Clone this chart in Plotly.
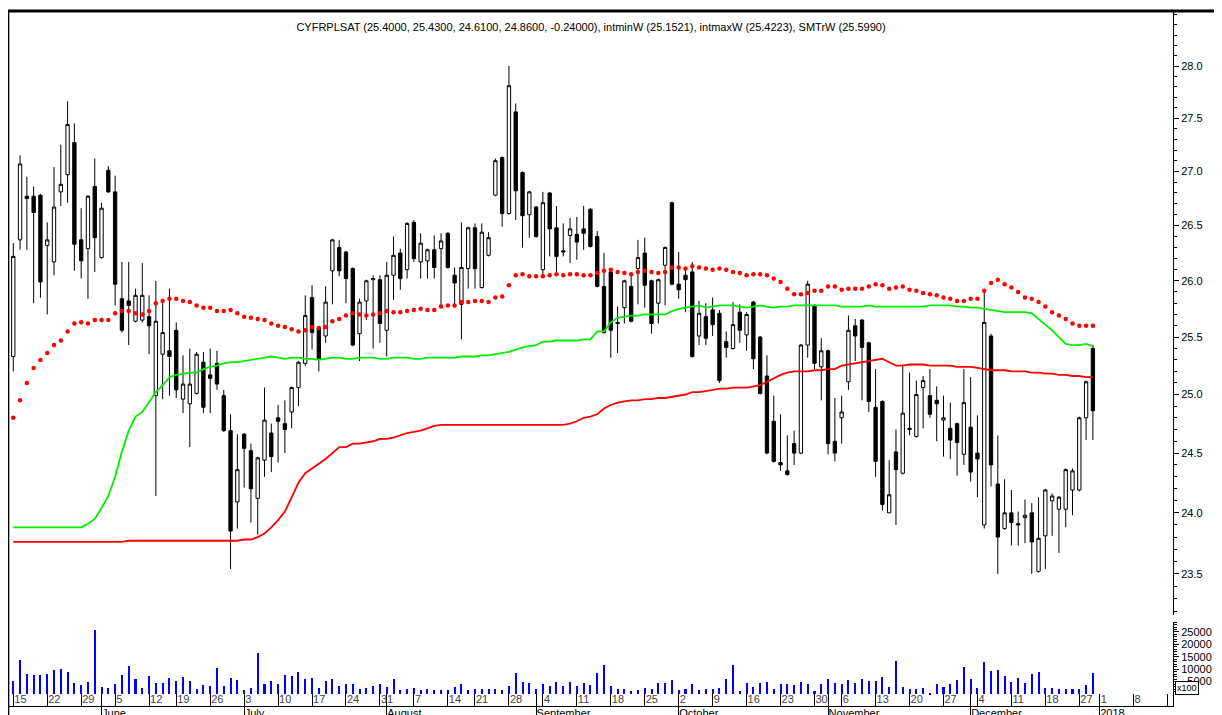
import pandas as pd
import plotly.graph_objects as go

# daily bars 15 May 2017 - 29 Dec 2017 (trading days)
open_ = [25.33, 26.37, 26.77, 26.77, 26.78, 26.32, 26.17, 26.81, 26.97, 27.27,
         26.37, 26.29, 26.86, 26.21, 27.01, 26.81, 25.84, 25.82, 25.64, 25.65,
         25.68, 24.99, 25.35, 25.38, 25.56, 24.96, 24.92, 25.01, 25.28, 25.17,
         25.27, 24.99, 24.69, 24.09, 24.66, 24.52, 24.12, 24.44, 24.67, 24.80,
         24.75, 24.85, 25.06, 25.27, 25.85, 25.58, 25.51, 26.09, 26.30, 26.26,
         26.11, 25.53, 25.82, 26.01, 26.01, 25.56, 26.05, 26.25, 26.10, 26.53,
         26.17, 26.18, 26.28, 26.29, 26.43, 26.05, 25.79, 26.11, 26.48, 25.94,
         26.23, 26.78, 27.13, 26.61, 27.56, 26.99, 26.60, 26.67, 26.10, 26.80,
         26.48, 26.27, 26.41, 26.42, 26.47, 26.65, 26.40, 25.95, 26.08, 25.63,
         25.76, 25.95, 26.11, 26.25, 26.00, 25.80, 26.14, 26.71, 25.97, 26.05,
         26.08, 25.51, 25.68, 25.74, 25.71, 25.46, 25.40, 25.72, 25.52, 25.81,
         25.50, 25.16, 24.77, 24.42, 24.35, 24.58, 24.50, 25.43, 25.78, 25.24,
         25.38, 24.60, 24.80, 25.11, 25.60, 25.65, 25.45, 24.89, 24.94, 24.00,
         24.51, 24.33, 24.71, 24.64, 25.06, 24.99, 24.95, 24.78, 24.71, 24.75,
         24.49, 24.72, 24.50, 23.90, 25.51, 24.24, 23.87, 24.00, 23.91, 23.96,
         24.00, 23.52, 23.81, 24.10, 24.03, 24.03, 24.19, 24.19, 24.80, 25.40]

high_ = [26.34, 27.15, 26.95, 26.86, 26.79, 26.53, 27.04, 27.25, 27.66, 27.45,
         26.66, 26.78, 27.12, 26.71, 27.05, 26.96, 26.17, 26.17, 25.93, 26.16,
         25.87, 26.00, 25.84, 25.93, 25.63, 25.34, 25.40, 25.37, 25.37, 25.40,
         25.38, 25.04, 24.83, 24.66, 24.67, 24.58, 24.47, 25.06, 24.75, 24.91,
         24.95, 25.07, 25.29, 25.87, 25.96, 25.59, 25.95, 26.38, 26.37, 26.27,
         26.12, 25.84, 26.01, 26.05, 26.05, 26.17, 26.40, 26.29, 26.53, 26.55,
         26.43, 26.29, 26.41, 26.43, 26.44, 26.12, 26.53, 26.49, 26.52, 26.52,
         26.44, 27.12, 27.14, 28.00, 27.64, 27.00, 26.82, 26.68, 26.81, 26.81,
         26.68, 26.52, 26.57, 26.58, 26.68, 26.66, 26.45, 26.25, 26.09, 25.77,
         26.01, 26.05, 26.37, 26.39, 26.01, 26.02, 26.31, 26.72, 26.26, 26.10,
         26.17, 25.82, 25.80, 25.85, 25.74, 25.55, 25.81, 25.79, 25.72, 25.82,
         25.51, 25.34, 24.99, 24.83, 24.65, 24.69, 25.44, 26.00, 25.79, 25.49,
         25.39, 24.97, 24.99, 25.69, 25.66, 25.66, 25.46, 25.22, 24.95, 24.44,
         24.70, 25.26, 25.19, 25.12, 25.16, 25.22, 25.07, 24.99, 24.93, 24.76,
         25.22, 25.15, 24.82, 25.90, 25.53, 24.65, 24.28, 24.19, 24.01, 24.11,
         24.08, 24.13, 24.20, 24.16, 24.14, 24.37, 24.37, 24.81, 25.12, 25.43]

low_ = [25.20, 26.28, 26.28, 25.80, 25.85, 25.70, 26.05, 26.68, 26.71, 26.09,
        26.02, 25.84, 26.08, 26.20, 26.80, 25.78, 25.54, 25.43, 25.63, 25.63,
        25.35, 24.14, 24.96, 24.99, 24.97, 24.84, 24.55, 25.00, 24.84, 24.84,
        25.04, 24.68, 23.54, 23.87, 24.21, 23.92, 23.82, 24.30, 24.34, 24.42,
        24.50, 24.71, 24.90, 25.25, 25.39, 25.20, 25.45, 25.79, 26.04, 25.80,
        25.42, 25.29, 25.65, 25.40, 25.45, 25.33, 25.83, 25.92, 26.02, 26.17,
        26.02, 26.02, 26.02, 25.76, 26.11, 25.78, 25.48, 25.93, 25.93, 25.93,
        26.22, 26.77, 26.49, 26.60, 26.55, 26.30, 26.39, 26.39, 26.05, 26.22,
        26.08, 26.22, 26.16, 26.19, 26.28, 26.30, 25.94, 25.53, 25.32, 25.36,
        25.62, 25.63, 25.79, 25.76, 25.53, 25.62, 25.78, 25.96, 25.84, 25.72,
        25.32, 25.43, 25.43, 25.51, 25.10, 25.32, 25.39, 25.45, 25.38, 25.22,
        25.00, 24.49, 24.42, 24.35, 24.31, 24.40, 24.49, 25.32, 25.22, 24.95,
        24.49, 24.43, 24.58, 25.04, 25.29, 24.95, 24.85, 24.30, 24.02, 24.00,
        23.90, 24.32, 24.65, 24.63, 24.71, 24.80, 24.60, 24.47, 24.45, 24.31,
        24.40, 24.26, 24.13, 23.87, 24.22, 23.50, 23.86, 23.73, 23.73, 23.75,
        23.50, 23.51, 23.54, 23.81, 23.67, 23.88, 23.98, 24.18, 24.61, 24.61]

close_ = [26.22, 27.07, 26.75, 26.62, 25.99, 26.37, 26.67, 26.88, 27.44, 26.33,
          26.18, 26.77, 26.39, 26.66, 26.81, 25.97, 25.56, 25.78, 25.87, 25.87,
          25.60, 25.64, 25.54, 25.33, 25.04, 25.09, 25.09, 25.35, 24.89, 25.14,
          25.09, 24.69, 23.85, 24.36, 24.54, 24.20, 24.46, 24.78, 24.47, 24.77,
          24.70, 25.06, 25.28, 25.69, 25.54, 25.31, 25.81, 26.37, 26.09, 26.02,
          25.43, 25.81, 26.00, 26.02, 25.62, 26.05, 26.23, 26.02, 26.52, 26.20,
          26.34, 26.28, 26.12, 26.36, 26.12, 25.98, 26.12, 26.48, 26.11, 26.44,
          26.39, 27.10, 26.61, 27.81, 26.82, 26.59, 26.81, 26.40, 26.71, 26.47,
          26.22, 26.26, 26.47, 26.35, 26.43, 26.31, 25.95, 25.54, 25.56, 25.62,
          26.00, 25.64, 26.21, 25.96, 25.62, 26.01, 26.30, 25.97, 25.92, 26.01,
          25.33, 25.71, 25.49, 25.61, 25.12, 25.41, 25.61, 25.56, 25.70, 25.31,
          25.01, 24.50, 24.43, 24.40, 24.32, 24.50, 25.43, 25.97, 25.27, 25.38,
          24.58, 24.50, 24.85, 25.56, 25.51, 25.41, 24.94, 24.43, 24.07, 24.15,
          24.36, 24.84, 24.70, 25.00, 25.12, 24.83, 24.92, 24.80, 24.61, 24.59,
          24.93, 24.34, 24.45, 25.63, 24.40, 23.80, 24.00, 23.92, 23.90, 23.98,
          23.76, 23.79, 24.19, 24.14, 24.13, 24.36, 24.35, 24.80, 25.11, 24.86]

# volume in units of 100
volume = [5200, 13700, 7900, 7600, 7600, 8200, 9600, 10100, 8800, 4600,
          3600, 4800, 25700, 2800, 2400, 3900, 7600, 11300, 6000, 2400,
          7200, 4300, 4600, 6400, 5200, 6800, 5200, 1900, 3600, 3400,
          10500, 3200, 6400, 5600, 1600, 2300, 16500, 3900, 5200, 3900,
          7800, 7200, 8800, 5900, 6400, 2500, 5200, 5900, 3200, 4200,
          4200, 1900, 2500, 3200, 4200, 2800, 6000, 1700, 2000, 2400,
          1600, 1900, 1600, 1600, 1600, 2900, 3900, 1700, 2000, 2000,
          1900, 1900, 1500, 3200, 8600, 5000, 4600, 2000, 3900, 3200,
          5000, 3200, 5000, 3200, 4600, 3600, 8300, 11700, 3200, 2100,
          2000, 1300, 1600, 2400, 2100, 4300, 4600, 5600, 1600, 2100,
          3900, 1600, 2000, 2100, 2500, 6000, 11700, 1300, 4400, 2800,
          4600, 4800, 1900, 4200, 3900, 3600, 4800, 4200, 1300, 3900,
          5900, 4300, 3900, 5600, 4600, 5900, 5400, 5200, 6700, 2800,
          13300, 2800, 2100, 1900, 2500, 500, 3900, 2800, 3900, 5500,
          10900, 6000, 2500, 12900, 9200, 9600, 7200, 4800, 6600, 4600,
          7900, 8800, 2500, 2500, 2000, 2100, 2100, 2100, 3600, 8300]

smtr = [24.80, 24.95, 25.10, 25.23, 25.30, 25.36, 25.43, 25.47, 25.55, 25.62,
        25.63, 25.62, 25.65, 25.65, 25.65, 25.71, 25.73, 25.73, 25.71, 25.70,
        25.73, 25.80, 25.82, 25.84, 25.84, 25.82, 25.81, 25.78, 25.76, 25.76,
        25.73, 25.73, 25.74, 25.71, 25.68, 25.67, 25.66, 25.65, 25.62, 25.60,
        25.59, 25.57, 25.55, 25.56, 25.59, 25.58, 25.59, 25.64, 25.66, 25.69,
        25.71, 25.70, 25.69, 25.70, 25.71, 25.73, 25.72, 25.72, 25.73, 25.74,
        25.75, 25.74, 25.74, 25.77, 25.78, 25.78, 25.81, 25.81, 25.82, 25.82,
        25.81, 25.85, 25.86, 25.96, 26.05, 26.06, 26.04, 26.04, 26.04, 26.05,
        26.06, 26.05, 26.06, 26.06, 26.05, 26.05, 26.07, 26.09, 26.10, 26.08,
        26.07, 26.06, 26.08, 26.09, 26.08, 26.07, 26.08, 26.12, 26.12, 26.11,
        26.13, 26.12, 26.11, 26.10, 26.11, 26.10, 26.08, 26.07, 26.05, 26.06,
        26.06, 26.05, 26.02, 25.99, 25.93, 25.88, 25.88, 25.89, 25.91, 25.91,
        25.95, 25.95, 25.92, 25.93, 25.93, 25.93, 25.95, 25.97, 25.96, 25.93,
        25.94, 25.95, 25.92, 25.91, 25.89, 25.88, 25.87, 25.85, 25.84, 25.82,
        25.82, 25.84, 25.84, 25.91, 25.98, 26.01, 25.97, 25.94, 25.90, 25.85,
        25.84, 25.81, 25.77, 25.72, 25.69, 25.66, 25.62, 25.60, 25.60, 25.60]

int_max = [23.88, 23.88, 23.88, 23.88, 23.88, 23.88, 23.88, 23.88, 23.88, 23.88,
           23.88, 23.91, 23.95, 24.04, 24.14, 24.30, 24.51, 24.69, 24.81, 24.85,
           24.94, 25.02, 25.08, 25.15, 25.17, 25.18, 25.19, 25.19, 25.22, 25.24,
           25.25, 25.27, 25.28, 25.28, 25.29, 25.30, 25.31, 25.32, 25.33, 25.32,
           25.31, 25.32, 25.32, 25.31, 25.31, 25.30, 25.31, 25.32, 25.32, 25.31,
           25.31, 25.32, 25.32, 25.32, 25.31, 25.31, 25.32, 25.32, 25.32, 25.31,
           25.31, 25.32, 25.32, 25.32, 25.32, 25.32, 25.33, 25.33, 25.33, 25.34,
           25.34, 25.35, 25.36, 25.37, 25.39, 25.41, 25.42, 25.43, 25.46, 25.46,
           25.47, 25.47, 25.47, 25.47, 25.48, 25.48, 25.55, 25.55, 25.63, 25.67,
           25.68, 25.69, 25.69, 25.70, 25.70, 25.70, 25.70, 25.73, 25.75, 25.76,
           25.77, 25.78, 25.76, 25.77, 25.78, 25.78, 25.78, 25.77, 25.76, 25.77,
           25.78, 25.77, 25.76, 25.77, 25.77, 25.78, 25.78, 25.78, 25.78, 25.78,
           25.78, 25.78, 25.77, 25.77, 25.77, 25.77, 25.78, 25.77, 25.77, 25.77,
           25.77, 25.77, 25.77, 25.77, 25.77, 25.78, 25.78, 25.78, 25.78, 25.77,
           25.77, 25.76, 25.76, 25.75, 25.74, 25.73, 25.72, 25.72, 25.72, 25.72,
           25.71, 25.66, 25.61, 25.56, 25.50, 25.44, 25.43, 25.43, 25.44, 25.42]

int_min = [23.76, 23.76, 23.76, 23.76, 23.76, 23.76, 23.76, 23.76, 23.76, 23.76,
           23.76, 23.76, 23.76, 23.76, 23.76, 23.76, 23.76, 23.77, 23.77, 23.77,
           23.77, 23.77, 23.77, 23.77, 23.77, 23.77, 23.77, 23.77, 23.77, 23.77,
           23.77, 23.77, 23.77, 23.77, 23.78, 23.78, 23.80, 23.83, 23.88, 23.94,
           24.01, 24.13, 24.25, 24.33, 24.37, 24.41, 24.45, 24.50, 24.55, 24.55,
           24.58, 24.58, 24.59, 24.60, 24.62, 24.62, 24.63, 24.65, 24.67, 24.68,
           24.69, 24.71, 24.73, 24.74, 24.74, 24.74, 24.74, 24.74, 24.74, 24.74,
           24.74, 24.74, 24.74, 24.74, 24.74, 24.74, 24.74, 24.74, 24.74, 24.74,
           24.74, 24.74, 24.75, 24.77, 24.80, 24.81, 24.83, 24.88, 24.91, 24.93,
           24.94, 24.95, 24.95, 24.96, 24.96, 24.97, 24.97, 24.98, 24.99, 25.00,
           25.02, 25.02, 25.03, 25.04, 25.05, 25.05, 25.06, 25.06, 25.06, 25.07,
           25.08, 25.11, 25.14, 25.17, 25.19, 25.20, 25.20, 25.20, 25.21, 25.21,
           25.22, 25.22, 25.25, 25.26, 25.27, 25.28, 25.29, 25.30, 25.31, 25.28,
           25.25, 25.25, 25.26, 25.26, 25.26, 25.25, 25.25, 25.25, 25.25, 25.24,
           25.24, 25.24, 25.23, 25.22, 25.21, 25.21, 25.21, 25.20, 25.20, 25.20,
           25.19, 25.19, 25.18, 25.18, 25.17, 25.17, 25.16, 25.16, 25.15, 25.15]

holidays = ["2017-06-13", "2017-08-15", "2017-11-01", "2017-12-25", "2017-12-26"]
title = ("CYFRPLSAT (25.4000, 25.4300, 24.6100, 24.8600, -0.24000), "
         "intminW (25.1521), intmaxW (25.4223), SMTrW (25.5990)")

# trading-day axis, carried on into January 2018
days = pd.bdate_range("2017-05-15", "2018-01-15")
days = days[~days.isin(pd.to_datetime(holidays))]
idx = list(range(len(open_)))

week_pos, week_txt, month_pos, month_txt = [], [], [], []
for i, d in enumerate(days):
    if i == 0 or d.isocalendar()[1] != days[i - 1].isocalendar()[1]:
        week_pos.append(i)
        week_txt.append(str(d.day))
    if i > 0 and d.month != days[i - 1].month:
        month_pos.append(i)
        month_txt.append(str(d.year) if d.month == 1 else d.strftime("%B"))

FONT = "Liberation Sans, Arial, sans-serif"

fig = go.Figure()

fig.add_trace(go.Candlestick(
    x=idx, open=open_, high=high_, low=low_, close=close_,
    increasing=dict(line=dict(color="black", width=1), fillcolor="white"),
    decreasing=dict(line=dict(color="black", width=1), fillcolor="black"),
    whiskerwidth=0, showlegend=False, hoverinfo="skip"))

fig.add_trace(go.Scatter(x=idx, y=int_max, mode="lines",
                         line=dict(color="#00ee00", width=1.8), hoverinfo="skip"))
fig.add_trace(go.Scatter(x=idx, y=int_min, mode="lines",
                         line=dict(color="#ff0000", width=1.8), hoverinfo="skip"))
fig.add_trace(go.Scatter(x=idx, y=smtr, mode="markers",
                         marker=dict(color="#ff0000", size=4.5), hoverinfo="skip"))

fig.add_trace(go.Bar(x=idx, y=volume, width=0.3, marker=dict(color="#0000ff", line_width=0),
                     xaxis="x", yaxis="y2", hoverinfo="skip"))
# carrier for the month axis
fig.add_trace(go.Scatter(x=[], y=[], xaxis="x2", yaxis="y2", hoverinfo="skip"))

price_ticks = [23.5, 24.0, 24.5, 25.0, 25.5, 26.0, 26.5, 27.0, 27.5, 28.0]
price_minor = [round(23.2 + 0.1 * k, 1) for k in range(54)]
vol_ticks = [5000, 10000, 15000, 20000, 25000]
vol_minor = [1000 * k for k in range(1, 30)]

fig.update_layout(
    width=1222, height=715,
    margin=dict(l=1, r=57, t=3, b=17, autoexpand=False),
    paper_bgcolor="white", plot_bgcolor="white",
    showlegend=False,
    font=dict(family=FONT, size=11, color="black"),
    bargap=0,
    title=dict(text=title, x=0.5, xref="paper", xanchor="center",
               y=1 - 19 / 715, yanchor="middle", font=dict(size=11, color="black")),
    xaxis=dict(
        domain=[0, 1], anchor="y2", range=[-0.63, 170.8], automargin=False,
        rangeslider=dict(visible=False),
        tickmode="array", tickvals=week_pos, ticktext=week_txt,
        ticks="inside", ticklen=12, tickwidth=1, tickcolor="black",
        ticklabelposition="inside right", ticklabelstandoff=-3,
        minor=dict(tickvals=month_pos, ticks="inside", ticklen=12, tickcolor="black"),
        showline=True, linecolor="black", linewidth=1,
        showgrid=False, zeroline=False, tickfont=dict(size=11)),
    xaxis2=dict(
        matches="x", overlaying="x", anchor="y2", side="bottom", automargin=False,
        tickmode="array", tickvals=month_pos, ticktext=month_txt,
        ticks="outside", ticklen=12, tickcolor="black",
        ticklabelposition="outside right", ticklabelstandoff=-3,
        showline=False, showgrid=False, zeroline=False, tickfont=dict(size=11)),
    yaxis=dict(
        domain=[0.131, 1], anchor="x", side="right", type="log", automargin=False,
        range=[1.36491, 1.45540],
        tickmode="array", tickvals=price_ticks, ticktext=[f"{v:.1f}" for v in price_ticks],
        ticks="outside", ticklen=5, tickcolor="black",
        minor=dict(tickvals=price_minor, ticks="outside", ticklen=3, tickcolor="black"),
        showline=True, linecolor="black", linewidth=1,
        showgrid=False, zeroline=False, tickfont=dict(size=11)),
    yaxis2=dict(
        domain=[0, 0.1209], anchor="x", side="right", automargin=False,
        range=[-4839, 29032],
        tickmode="array", tickvals=vol_ticks,
        ticktext=[f"{v:d}".rjust(5, "\u2007") for v in vol_ticks],
        ticks="outside", ticklen=5, tickcolor="black",
        minor=dict(tickvals=vol_minor, ticks="outside", ticklen=3, tickcolor="black"),
        showline=True, linecolor="black", linewidth=1,
        showgrid=False, zeroline=False, tickfont=dict(size=11)),
    shapes=[
        dict(type="line", xref="paper", yref="paper", x0=-0.001, x1=1.06, y0=1, y1=1,
             line=dict(color="black", width=3)),
        dict(type="line", xref="paper", yref="paper", x0=-0.001, x1=-0.001, y0=-0.05, y1=1,
             line=dict(color="black", width=3)),
    ],
    annotations=[
        dict(text="x100", xref="paper", yref="paper", x=1.0017, y=0.026,
             xanchor="left", yanchor="middle", showarrow=False,
             font=dict(size=9, color="black"), bordercolor="black", borderwidth=1,
             borderpad=1, bgcolor="white"),
    ],
)

fig.write_html("out.html")
